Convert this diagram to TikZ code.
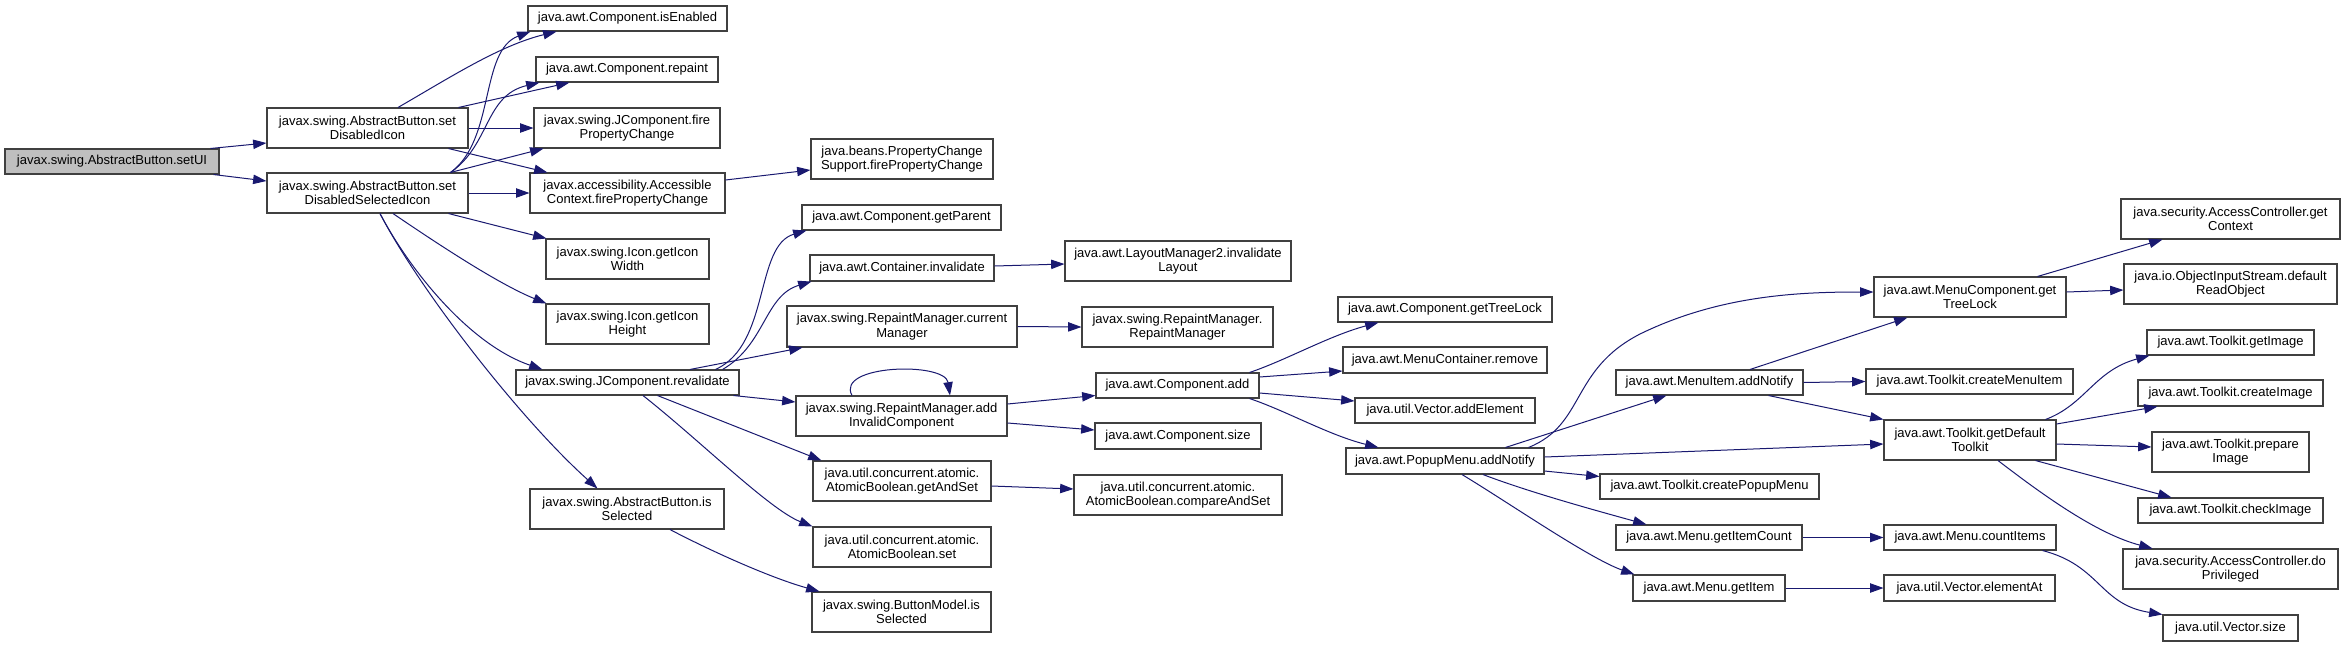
\documentclass[tikz,border=0pt]{standalone}
\usepackage{fontspec}
\setmainfont{Liberation Sans}
\usetikzlibrary{arrows.meta,calc}
\definecolor{edgeblue}{HTML}{191970}
\definecolor{boxline}{HTML}{404040}
\newcommand{\gfont}{\fontsize{9.75pt}{10.9pt}\selectfont}
\newcommand{\gbox}[7][]{\node[gnode,#1,minimum width={(#5-#3)*0.75pt},minimum height={(#6-#4)*0.75pt}] (#2) at ({(#3+#5)/2},{(#4+#6)/2}) {#7};}
\tikzset{
  gnode/.style={draw=boxline, line width=0.8pt, fill=white, inner sep=0pt, align=center, font=\gfont},
  root/.style={fill=black!25},
  call/.style={draw=edgeblue, line width=0.75pt, -{Triangle[length=10pt,width=7pt]}}
}
\begin{document}
\begin{tikzpicture}[x=0.75pt,y=-0.75pt]
\useasboundingbox[fill=white] (0,0) rectangle (2345,647);
% nodes
\gbox[root]{setui}{5}{149}{219}{174}{javax.swing.AbstractButton.setUI}
\gbox{sdi}{267}{108}{468}{148}{javax.swing.AbstractButton.set\\DisabledIcon}
\gbox{sdsi}{267}{173}{468}{213}{javax.swing.AbstractButton.set\\DisabledSelectedIcon}
\gbox{isen}{528}{6}{727}{31}{java.awt.Component.isEnabled}
\gbox{rep}{536}{57}{718}{82}{java.awt.Component.repaint}
\gbox{jfpc}{534}{108}{720}{148}{javax.swing.JComponent.fire\\PropertyChange}
\gbox{acfpc}{530}{173}{725}{213}{javax.accessibility.Accessible\\Context.firePropertyChange}
\gbox{iw}{546}{239}{709}{279}{javax.swing.Icon.getIcon\\Width}
\gbox{ih}{546}{304}{709}{344}{javax.swing.Icon.getIcon\\Height}
\gbox{reval}{516}{370}{739}{395}{javax.swing.JComponent.revalidate}
\gbox{absel}{530}{489}{724}{529}{javax.swing.AbstractButton.is\\Selected}
\gbox{pcs}{811}{139}{993}{179}{java.beans.PropertyChange\\Support.firePropertyChange}
\gbox{gpar}{802}{205}{1001}{230}{java.awt.Component.getParent}
\gbox{cinv}{810}{255}{994}{281}{java.awt.Container.invalidate}
\gbox{rmcur}{787}{306}{1017}{347}{javax.swing.RepaintManager.current\\Manager}
\gbox{rmadd}{796}{396}{1007}{436}{javax.swing.RepaintManager.add\\InvalidComponent}
\gbox{gas}{813}{461}{991}{501}{java.util.concurrent.atomic.\\AtomicBoolean.getAndSet}
\gbox{abset}{813}{527}{991}{567}{java.util.concurrent.atomic.\\AtomicBoolean.set}
\gbox{bmsel}{812}{592}{991}{632}{javax.swing.ButtonModel.is\\Selected}
\gbox{lm2}{1065}{241}{1291}{281}{java.awt.LayoutManager2.invalidate\\Layout}
\gbox{rmrm}{1082}{307}{1273}{347}{javax.swing.RepaintManager.\\RepaintManager}
\gbox{cadd}{1096}{373}{1259}{398}{java.awt.Component.add}
\gbox{csize}{1095}{423}{1261}{449}{java.awt.Component.size}
\gbox{cas}{1074}{475}{1282}{515}{java.util.concurrent.atomic.\\AtomicBoolean.compareAndSet}
\gbox{gtl}{1338}{297}{1552}{322}{java.awt.Component.getTreeLock}
\gbox{mcrem}{1343}{347}{1547}{373}{java.awt.MenuContainer.remove}
\gbox{vadd}{1355}{398}{1535}{423}{java.util.Vector.addElement}
\gbox{pman}{1346}{448}{1544}{474}{java.awt.PopupMenu.addNotify}
\gbox{mcgtl}{1874}{277}{2066}{317}{java.awt.MenuComponent.get\\TreeLock}
\gbox{mian}{1616}{370}{1803}{395}{java.awt.MenuItem.addNotify}
\gbox{tcmi}{1866}{369}{2073}{394}{java.awt.Toolkit.createMenuItem}
\gbox{tgdt}{1884}{420}{2056}{460}{java.awt.Toolkit.getDefault\\Toolkit}
\gbox{tcpm}{1600}{474}{1819}{499}{java.awt.Toolkit.createPopupMenu}
\gbox{mgic}{1616}{525}{1802}{550}{java.awt.Menu.getItemCount}
\gbox{mci}{1884}{525}{2056}{550}{java.awt.Menu.countItems}
\gbox{mgi}{1633}{575}{1785}{601}{java.awt.Menu.getItem}
\gbox{vea}{1884}{575}{2055}{601}{java.util.Vector.elementAt}
\gbox{acgc}{2121}{199}{2340}{239}{java.security.AccessController.get\\Context}
\gbox{oisd}{2124}{264}{2337}{304}{java.io.ObjectInputStream.default\\ReadObject}
\gbox{tgi}{2147}{330}{2314}{355}{java.awt.Toolkit.getImage}
\gbox{tci}{2138}{380}{2323}{406}{java.awt.Toolkit.createImage}
\gbox{tpi}{2152}{432}{2309}{472}{java.awt.Toolkit.prepare\\Image}
\gbox{tchk}{2138}{498}{2323}{523}{java.awt.Toolkit.checkImage}
\gbox{acdp}{2123}{549}{2338}{589}{java.security.AccessController.do\\Privileged}
\gbox{vsize}{2163}{615}{2298}{641}{java.util.Vector.size}
% edges
\draw[call] ($(setui.north east)+(-9,0)$) -- ($(sdi.west)+(0,15)$);
\draw[call] ($(setui.south east)+(-6,0)$) -- ($(sdsi.west)+(0,-12)$);
\draw[call] ($(sdi.north)+(30.5,0)$) .. controls +(52,-30) and +(-57,14) .. ($(isen.south west)+(29,0)$);
\draw[call] ($(sdsi.north east)+(-18,0)$) .. controls +(45,-33) and +(-51,19) .. ($(isen.south west)+(3,0)$);
\draw[call] ($(sdsi.north east)+(-18,0)$) .. controls +(40,-28) and +(-55,13) .. ($(rep.south west)+(4,0)$);
\draw[call] ($(sdi.north east)+(-10,0)$) -- ($(rep.south west)+(34,0)$);
\draw[call] (sdi.east) -- (jfpc.west);
\draw[call] ($(sdi.south east)+(-20,0)$) -- ($(acfpc.north west)+(18,0)$);
\draw[call] ($(sdsi.north east)+(-18,0)$) -- ($(jfpc.south west)+(10,0)$);
\draw[call] (sdsi.east) -- (acfpc.west);
\draw[call] ($(sdsi.south east)+(-20,0)$) -- ($(iw.north west)+(1,0)$);
\draw[call] ($(sdsi.south)+(25.5,0)$) .. controls +(47,32) and +(-47,-19) .. ($(ih.north west)+(1,0)$);
\draw[call] ($(sdsi.south)+(12.5,0)$) .. controls +(30,57) and +(-73,-25) .. ($(reval.north west)+(27,0)$);
\draw[call] ($(sdsi.south)+(12.5,0)$) .. controls +(40,77) and +(-77,-69) .. ($(absel.north west)+(68,0)$);
\draw[call] ($(acfpc.east)+(0,-13)$) -- ($(pcs.west)+(0,11)$);
\draw[call] ($(reval.north east)+(-24,0)$) .. controls +(55,-25) and +(-52,15) .. ($(gpar.south west)+(5,0)$);
\draw[call] ($(reval.north east)+(-17,0)$) .. controls +(43,-25) and +(-47,14) .. ($(cinv.south west)+(2,0)$);
\draw[call] ($(reval.north)+(62.5,0)$) -- ($(rmcur.south west)+(16,0)$);
\draw[call] ($(reval.south east)+(-6,0)$) -- ($(rmadd.west)+(0,-14)$);
\draw[call] ($(reval.south)+(30,0)$) -- ($(gas.north west)+(9,0)$);
\draw[call] ($(reval.south)+(15.5,0)$) .. controls +(57,45) and +(-43,-17) .. (abset.north west);
\draw[call] ($(absel.south)+(43,0)$) .. controls +(40,21) and +(-50,-14) .. ($(bmsel.north west)+(8,0)$);
\draw[call] ($(cinv.east)+(0,-2)$) -- ($(lm2.west)+(0,3)$);
\draw[call] (rmcur.east) -- (rmrm.west);
\draw[call] ($(rmadd.north)+(-49.5,0)$) .. controls +(-17,-31) and +(-5,-34) .. ($(rmadd.north)+(48.5,0)$);
\draw[call] ($(rmadd.east)+(0,-12)$) -- ($(cadd.west)+(0,10)$);
\draw[call] ($(rmadd.east)+(0,7)$) -- ($(csize.west)+(0,-6)$);
\draw[call] ($(gas.east)+(0,5)$) -- ($(cas.west)+(0,-6)$);
\draw[call] ($(cadd.north east)+(-10,0)$) .. controls +(36,-12) and +(-49,13) .. ($(gtl.south west)+(41,0)$);
\draw[call] ($(cadd.east)+(0,-8.5)$) -- ($(mcrem.west)+(0,11)$);
\draw[call] ($(cadd.east)+(0,7.5)$) -- ($(vadd.west)+(0,-9.5)$);
\draw[call] ($(cadd.south east)+(-10,0)$) .. controls +(36,12) and +(-49,-12) .. ($(pman.north west)+(33,0)$);
\draw[call] ($(pman.north east)+(-16,0)$) .. controls +(57,-23) and +(-70,36) .. (1640,334) .. controls +(80,-39) and +(-74,0) .. ($(mcgtl.west)+(0,-5)$);
\draw[call] ($(pman.north east)+(-39,0)$) -- ($(mian.south west)+(51,0)$);
\draw[call] ($(pman.east)+(0,-4)$) -- ($(tgdt.west)+(0,4)$);
\draw[call] ($(pman.east)+(0,10)$) -- ($(tcpm.west)+(0,-10)$);
\draw[call] ($(pman.south)+(38,0)$) .. controls +(47,18) and +(-47,-13) .. ($(mgic.north west)+(31,0)$);
\draw[call] ($(pman.south)+(17,0)$) .. controls +(48,29) and +(-45,-16) .. ($(mgi.north west)+(2,0)$);
\draw[call] ($(mian.north)+(40.5,0)$) -- ($(mcgtl.south west)+(34,0)$);
\draw[call] (mian.east) -- (tcmi.west);
\draw[call] ($(mian.south east)+(-35,0)$) -- (tgdt.north west);
\draw[call] (mgic.east) -- (mci.west);
\draw[call] (mgi.east) -- (vea.west);
\draw[call] ($(mcgtl.north east)+(-29,0)$) -- ($(acgc.south west)+(42,0)$);
\draw[call] ($(mcgtl.east)+(0,-5)$) -- ($(oisd.west)+(0,6)$);
\draw[call] ($(tgdt.north east)+(-11,0)$) .. controls +(40,-15) and +(-55,15) .. ($(tgi.south west)+(3,0)$);
\draw[call] ($(tgdt.east)+(0,-16)$) -- ($(tci.south west)+(20,0)$);
\draw[call] ($(tgdt.east)+(0,4)$) -- ($(tpi.west)+(0,-5)$);
\draw[call] ($(tgdt.south east)+(-21,0)$) -- ($(tchk.north west)+(34,0)$);
\draw[call] ($(tgdt.south)+(28,0)$) .. controls +(52,40) and +(-53,-14) .. ($(acdp.north west)+(30,0)$);
\draw[call] ($(mci.south east)+(-14,0)$) .. controls +(58,15) and +(-63,-10) .. (vsize.north west);
\end{tikzpicture}
\end{document}
